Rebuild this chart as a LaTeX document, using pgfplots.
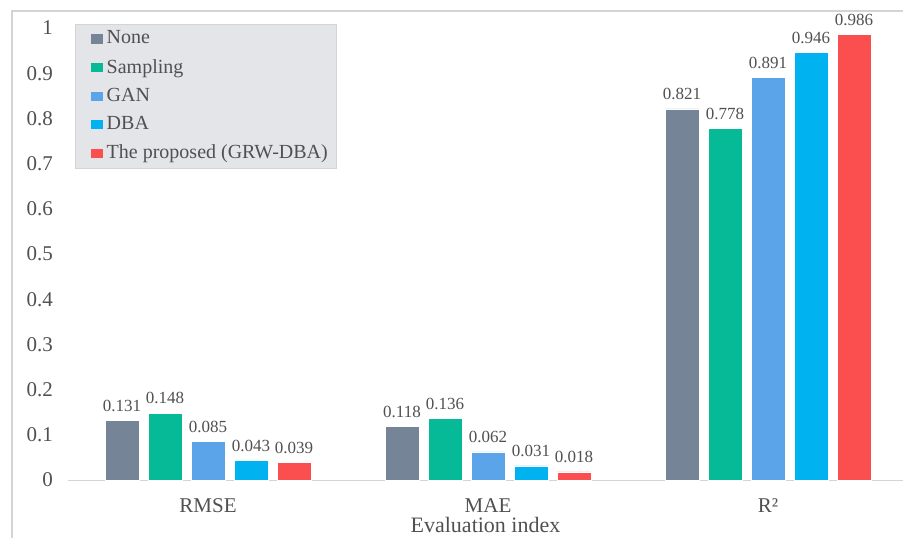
\documentclass[border=0pt]{standalone}
\usepackage{pgfplots}
\pgfplotsset{compat=1.18}
\usepackage{fontspec}
\setmainfont{Liberation Serif}
\definecolor{cNone}{HTML}{768497}
\definecolor{cSamp}{HTML}{07BA97}
\definecolor{cGAN}{HTML}{5CA4E9}
\definecolor{cDBA}{HTML}{00B2F0}
\definecolor{cProp}{HTML}{FB4E4E}
\definecolor{txt}{HTML}{505050}
\definecolor{legfill}{HTML}{E4E5E9}
\definecolor{frame}{HTML}{D4D4D4}
\begin{document}
\begin{tikzpicture}
\begin{axis}[
  at={(34pt,28.5pt)}, anchor=south west,
  scale only axis, width=417.5pt, height=226pt,
  xmin=-0.5, xmax=2.482, ymin=0, ymax=1,
  ybar=4.5pt, bar width=17pt,
  xtick={0,1,2}, xticklabels={RMSE,MAE,R²},
  ytick={0,0.1,...,1.01},
  axis x line*=bottom, axis y line*=left,
  y axis line style={draw=none},
  x axis line style={draw=frame, -},
  tick style={draw=none},
  /pgf/number format/assume math mode=true,
  ticklabel style={font=\fontsize{10.5}{12}\selectfont, text=txt},
  yticklabel style={xshift=-4pt},
  xticklabel style={yshift=-1.5pt},
  xlabel={Evaluation index},
  xlabel style={font=\fontsize{11}{12}\selectfont, text=txt, yshift=4.5pt},
  nodes near coords,
  nodes near coords style={font=\fontsize{8.5}{10}\selectfont, text=txt, yshift=1pt,
     /pgf/number format/.cd, fixed, fixed zerofill, precision=3, assume math mode=true},
  every axis plot/.append style={draw=white, line width=0.3pt},
  legend style={at={(0.0084,1.0078)}, anchor=north west, fill=legfill, draw=frame,
     font=\fontsize{10}{11}\selectfont, text=txt, row sep=2.1pt,
     inner xsep=2.5pt, inner ysep=1pt},
  legend cell align=left,
  legend image code/.code={\path (0pt,0pt); \fill[#1, draw=none] (5pt,-2.3pt) rectangle (11pt,2.3pt);},
]
\addplot[fill=cNone] coordinates {(0,0.131) (1,0.118) (2,0.821)};
\addplot[fill=cSamp] coordinates {(0,0.148) (1,0.136) (2,0.778)};
\addplot[fill=cGAN] coordinates {(0,0.085) (1,0.062) (2,0.891)};
\addplot[fill=cDBA] coordinates {(0,0.043) (1,0.031) (2,0.946)};
\addplot[fill=cProp] coordinates {(0,0.039) (1,0.018) (2,0.986)};
\legend{None,Sampling,GAN,DBA,The proposed (GRW-DBA)}
\end{axis}
\draw[frame, line width=0.6pt] (6pt,-2pt) -- (6pt,263pt) -- (460pt,263pt);
\pgfresetboundingbox
\useasboundingbox (0,0) rectangle (451.5pt,268.5pt);
\end{tikzpicture}
\end{document}
